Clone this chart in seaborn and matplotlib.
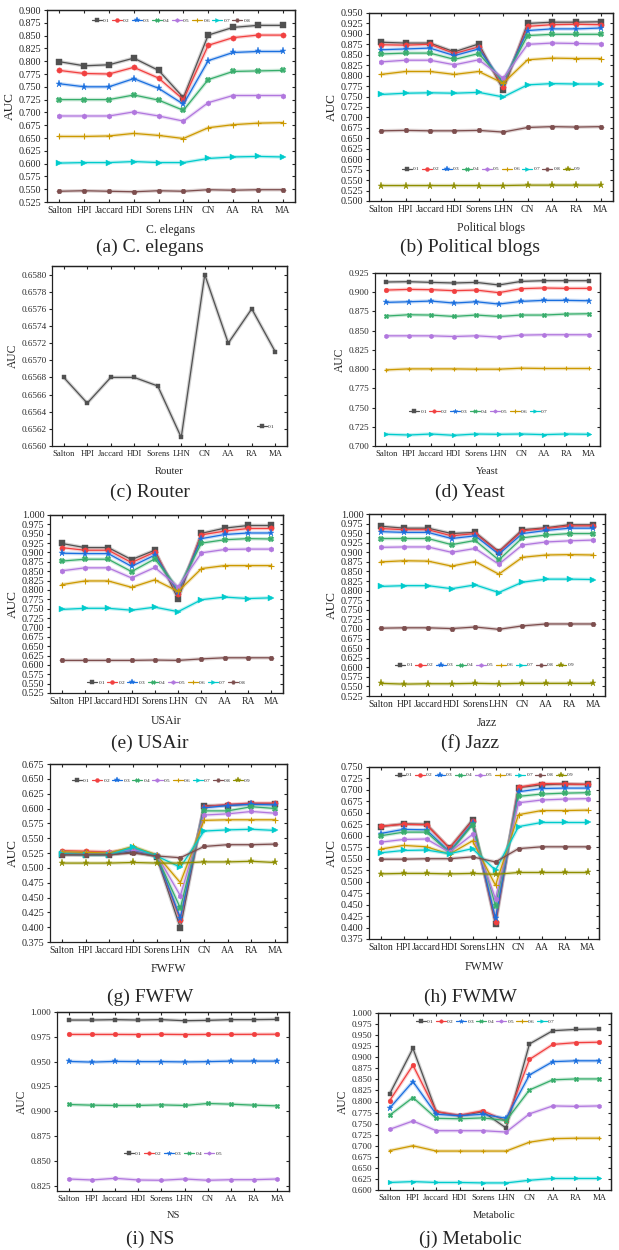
import matplotlib
matplotlib.use("Agg")
import matplotlib.pyplot as plt
from matplotlib.ticker import MultipleLocator, FormatStrFormatter
import numpy as np
import pandas as pd
import seaborn as sns

# ---------------- data ----------------
METHODS = ["Salton", "HPI", "Jaccard", "HDI", "Sorens", "LHN", "CN", "AA", "RA", "MA"]
RATIOS = ["0.1", "0.2", "0.3", "0.4", "0.5", "0.6", "0.7", "0.8", "0.9"]

CELEGANS = [
    [0.799, 0.791, 0.793, 0.806, 0.782, 0.729, 0.851, 0.866, 0.870, 0.870],
    [0.782, 0.776, 0.775, 0.788, 0.767, 0.725, 0.831, 0.846, 0.851, 0.851],
    [0.756, 0.750, 0.750, 0.766, 0.747, 0.716, 0.801, 0.817, 0.819, 0.819],
    [0.725, 0.725, 0.725, 0.734, 0.724, 0.704, 0.764, 0.780, 0.781, 0.782],
    [0.693, 0.693, 0.693, 0.701, 0.693, 0.683, 0.719, 0.733, 0.733, 0.733],
    [0.653, 0.653, 0.654, 0.659, 0.655, 0.649, 0.670, 0.676, 0.679, 0.680],
    [0.601, 0.602, 0.602, 0.604, 0.602, 0.602, 0.610, 0.613, 0.614, 0.613],
    [0.546, 0.547, 0.546, 0.545, 0.547, 0.546, 0.549, 0.548, 0.549, 0.549],
]
POLBLOGS = [
    [0.880, 0.878, 0.878, 0.857, 0.876, 0.766, 0.925, 0.928, 0.928, 0.929],
    [0.874, 0.873, 0.875, 0.853, 0.869, 0.773, 0.918, 0.922, 0.923, 0.922],
    [0.862, 0.864, 0.866, 0.848, 0.864, 0.782, 0.908, 0.912, 0.912, 0.914],
    [0.852, 0.854, 0.854, 0.839, 0.853, 0.786, 0.896, 0.899, 0.899, 0.899],
    [0.833, 0.837, 0.837, 0.826, 0.838, 0.794, 0.875, 0.878, 0.877, 0.876],
    [0.803, 0.810, 0.810, 0.803, 0.810, 0.782, 0.838, 0.842, 0.841, 0.841],
    [0.755, 0.758, 0.759, 0.758, 0.760, 0.749, 0.778, 0.781, 0.780, 0.780],
    [0.668, 0.669, 0.668, 0.668, 0.669, 0.665, 0.676, 0.678, 0.677, 0.678],
    [0.537, 0.537, 0.537, 0.537, 0.537, 0.537, 0.538, 0.538, 0.538, 0.538],
]
ROUTER = [
    [0.6568, 0.6565, 0.6568, 0.6568, 0.6567, 0.6561, 0.6580, 0.6572, 0.6576, 0.6571],
]
YEAST = [
    [0.9133, 0.9137, 0.9128, 0.9120, 0.9128, 0.9094, 0.9141, 0.9150, 0.9150, 0.9150],
    [0.9028, 0.9037, 0.9033, 0.9020, 0.9028, 0.8994, 0.9046, 0.9055, 0.9050, 0.9050],
    [0.8868, 0.8876, 0.8885, 0.8859, 0.8876, 0.8846, 0.8881, 0.8894, 0.8894, 0.8889],
    [0.8690, 0.8707, 0.8703, 0.8685, 0.8703, 0.8685, 0.8703, 0.8703, 0.8716, 0.8720],
    [0.8433, 0.8433, 0.8433, 0.8424, 0.8433, 0.8416, 0.8442, 0.8447, 0.8447, 0.8447],
    [0.7990, 0.8003, 0.8003, 0.8003, 0.7999, 0.7999, 0.8012, 0.8008, 0.8008, 0.8008],
    [0.7152, 0.7143, 0.7156, 0.7139, 0.7156, 0.7152, 0.7156, 0.7148, 0.7156, 0.7152],
]
USAIR = [
    [0.924, 0.913, 0.913, 0.881, 0.906, 0.775, 0.951, 0.965, 0.972, 0.972],
    [0.913, 0.906, 0.906, 0.873, 0.901, 0.788, 0.947, 0.957, 0.964, 0.964],
    [0.898, 0.897, 0.897, 0.863, 0.893, 0.794, 0.937, 0.948, 0.952, 0.952],
    [0.877, 0.882, 0.882, 0.849, 0.883, 0.803, 0.925, 0.934, 0.937, 0.936],
    [0.851, 0.859, 0.859, 0.832, 0.860, 0.808, 0.899, 0.908, 0.909, 0.909],
    [0.814, 0.824, 0.824, 0.807, 0.827, 0.796, 0.857, 0.865, 0.865, 0.865],
    [0.748, 0.751, 0.751, 0.746, 0.754, 0.742, 0.774, 0.781, 0.777, 0.779],
    [0.612, 0.612, 0.612, 0.612, 0.613, 0.612, 0.616, 0.619, 0.619, 0.619],
]
JAZZ = [
    [0.968, 0.963, 0.963, 0.949, 0.952, 0.902, 0.959, 0.964, 0.972, 0.972],
    [0.962, 0.959, 0.959, 0.943, 0.949, 0.900, 0.956, 0.962, 0.969, 0.969],
    [0.954, 0.952, 0.952, 0.936, 0.943, 0.895, 0.949, 0.957, 0.963, 0.963],
    [0.936, 0.936, 0.936, 0.920, 0.931, 0.880, 0.938, 0.945, 0.949, 0.949],
    [0.913, 0.914, 0.914, 0.900, 0.910, 0.869, 0.919, 0.927, 0.930, 0.932],
    [0.875, 0.878, 0.877, 0.864, 0.876, 0.843, 0.887, 0.893, 0.894, 0.893],
    [0.811, 0.813, 0.813, 0.805, 0.815, 0.795, 0.822, 0.830, 0.830, 0.829],
    [0.702, 0.703, 0.703, 0.701, 0.705, 0.699, 0.708, 0.713, 0.713, 0.713],
    [0.558, 0.556, 0.557, 0.557, 0.558, 0.557, 0.558, 0.558, 0.558, 0.558],
]
FWFW = [
    [0.522, 0.522, 0.522, 0.527, 0.519, 0.399, 0.605, 0.605, 0.608, 0.608],
    [0.529, 0.528, 0.527, 0.530, 0.520, 0.412, 0.603, 0.607, 0.609, 0.609],
    [0.524, 0.523, 0.523, 0.530, 0.520, 0.416, 0.601, 0.605, 0.607, 0.606],
    [0.525, 0.524, 0.523, 0.533, 0.520, 0.432, 0.596, 0.596, 0.603, 0.600],
    [0.526, 0.525, 0.526, 0.531, 0.522, 0.453, 0.589, 0.591, 0.595, 0.592],
    [0.527, 0.526, 0.525, 0.536, 0.522, 0.475, 0.580, 0.581, 0.581, 0.581],
    [0.524, 0.522, 0.522, 0.535, 0.520, 0.501, 0.562, 0.564, 0.565, 0.563],
    [0.522, 0.522, 0.522, 0.525, 0.520, 0.517, 0.536, 0.539, 0.539, 0.540],
    [0.508, 0.508, 0.508, 0.509, 0.508, 0.508, 0.510, 0.510, 0.511, 0.509],
]
FWMW = [
    [0.620, 0.626, 0.625, 0.573, 0.635, 0.407, 0.705, 0.711, 0.713, 0.712],
    [0.621, 0.625, 0.624, 0.573, 0.632, 0.413, 0.706, 0.714, 0.713, 0.712],
    [0.605, 0.614, 0.613, 0.565, 0.627, 0.420, 0.696, 0.703, 0.704, 0.704],
    [0.600, 0.608, 0.608, 0.563, 0.624, 0.448, 0.686, 0.691, 0.693, 0.694],
    [0.586, 0.592, 0.593, 0.564, 0.603, 0.463, 0.672, 0.678, 0.680, 0.681],
    [0.571, 0.579, 0.576, 0.560, 0.589, 0.492, 0.646, 0.655, 0.655, 0.656],
    [0.563, 0.568, 0.569, 0.561, 0.572, 0.525, 0.620, 0.629, 0.629, 0.629],
    [0.549, 0.549, 0.550, 0.550, 0.554, 0.543, 0.572, 0.576, 0.576, 0.576],
    [0.517, 0.518, 0.518, 0.517, 0.518, 0.516, 0.520, 0.520, 0.520, 0.520],
]
NS = [
    [0.9919, 0.9919, 0.9923, 0.9919, 0.9923, 0.9912, 0.9916, 0.9923, 0.9923, 0.9926],
    [0.9774, 0.9774, 0.9774, 0.9773, 0.9775, 0.9773, 0.9774, 0.9774, 0.9775, 0.9776],
    [0.9502, 0.9495, 0.9502, 0.9500, 0.9500, 0.9497, 0.9500, 0.9505, 0.9505, 0.9505],
    [0.9068, 0.9061, 0.9058, 0.9058, 0.9064, 0.9058, 0.9078, 0.9071, 0.9061, 0.9054],
    [0.8317, 0.8307, 0.8324, 0.8307, 0.8304, 0.8317, 0.8304, 0.8310, 0.8310, 0.8317],
]
METABOLIC = [
    [0.817, 0.920, 0.777, 0.767, 0.777, 0.740, 0.930, 0.960, 0.963, 0.964],
    [0.802, 0.882, 0.777, 0.769, 0.779, 0.756, 0.895, 0.929, 0.933, 0.934],
    [0.785, 0.845, 0.771, 0.768, 0.771, 0.762, 0.860, 0.890, 0.892, 0.892],
    [0.769, 0.809, 0.762, 0.761, 0.763, 0.757, 0.826, 0.849, 0.851, 0.851],
    [0.737, 0.756, 0.734, 0.734, 0.734, 0.731, 0.772, 0.790, 0.789, 0.790],
    [0.689, 0.700, 0.688, 0.688, 0.688, 0.688, 0.708, 0.716, 0.717, 0.717],
    [0.617, 0.619, 0.617, 0.617, 0.616, 0.616, 0.622, 0.626, 0.626, 0.626],
]

# ---------------- style ----------------
COLORS = ["#515151", "#F14040", "#1A6FDF", "#37AD6B", "#B177DE",
          "#CC9900", "#00CBCC", "#7D4E4E", "#8E8E00"]
MARKERS = ["s", "o", "*", "X", "h", "+", ">", "H", "*"]

sns.set_style("ticks")
plt.rcParams["font.family"] = ["Liberation Serif", "DejaVu Serif"]
plt.rcParams["axes.linewidth"] = 0.9

W, H = 619, 1250
fig = plt.figure(figsize=(W / 100, H / 100), dpi=100)


def rect(l, t, r, b):
    return [l / W, 1 - b / H, (r - l) / W, (b - t) / H]


def panel(data, box, name, ylim, step, fmt, leg_xy, ytick_fs, xtick_fs, lab_fs, auc_fs,
          small=False):
    ax = fig.add_axes(rect(*box))
    ms = 3.4 if small else 3.8
    for i, vals in enumerate(data):
        df = pd.DataFrame({"Method": METHODS, "AUC": vals})
        c = COLORS[i]
        sns.lineplot(data=df, x="Method", y="AUC", color=c, lw=2.6, alpha=0.25,
                     ax=ax, legend=False, sort=False)
        sns.lineplot(data=df, x="Method", y="AUC", color=c, lw=0.9,
                     marker=MARKERS[i], markersize=ms * (1.35 if MARKERS[i] == "*" else 1.0),
                     markeredgecolor=c, markeredgewidth=0.8 if MARKERS[i] == "+" else 0.3,
                     label=RATIOS[i], ax=ax, sort=False)
    ax.set_xlim(-0.5, 9.5)
    ax.set_ylim(*ylim)
    ax.yaxis.set_major_locator(MultipleLocator(step))
    ax.yaxis.set_major_formatter(FormatStrFormatter(fmt))
    ax.tick_params(axis="y", direction="out", length=2.5, width=0.8,
                   labelsize=ytick_fs, pad=1.5)
    ax.tick_params(axis="x", direction="in", length=2.5, width=0.8,
                   labelsize=xtick_fs, pad=3)
    ax.set_xlabel(name, fontsize=lab_fs, labelpad=6)
    ax.set_ylabel("AUC", fontsize=auc_fs, labelpad=2)
    for s in ax.spines.values():
        s.set_linewidth(0.9)
        s.set_color("#222222")
    sy = ax.secondary_yaxis("right")
    sy.yaxis.set_major_locator(MultipleLocator(step))
    sy.tick_params(direction="in", length=2.5, width=0.8, labelright=False)
    sx = ax.secondary_xaxis("top")
    sx.set_xticks(range(len(METHODS)))
    sx.tick_params(direction="in", length=2.5, width=0.8, labeltop=False)
    handles, labels = ax.get_legend_handles_labels()
    ax.legend(handles, labels, ncol=len(labels), loc="center", bbox_to_anchor=leg_xy,
              frameon=False, fontsize=3.8, handlelength=1.9, handletextpad=0.2,
              columnspacing=0.45, markerscale=0.75, borderpad=0, borderaxespad=0)
    return ax


BIG = dict(ytick_fs=7.3, xtick_fs=6.9, lab_fs=8.5, auc_fs=9.5)
SMALL = dict(ytick_fs=6.6, xtick_fs=6.2, lab_fs=7.6, auc_fs=8.3, small=True)

panel(CELEGANS, (47, 10, 295, 202), "C. elegans", (0.525, 0.900), 0.025, "%.3f",
      (0.50, 0.943), **BIG)
panel(POLBLOGS, (369, 13, 613, 201), "Political blogs", (0.500, 0.950), 0.025, "%.3f",
      (0.50, 0.17), **BIG)
panel(ROUTER, (52, 266, 287, 446), "Router", (0.6560, 0.65810), 0.0002, "%.4f",
      (0.91, 0.11), **SMALL)
panel(YEAST, (375, 273, 600, 446), "Yeast", (0.700, 0.925), 0.025, "%.3f",
      (0.46, 0.197), **SMALL)
panel(USAIR, (50, 515, 283, 693), "USAir", (0.525, 1.000), 0.025, "%.3f",
      (0.50, 0.06), **BIG)
panel(JAZZ, (369, 514, 605, 696), "Jazz", (0.525, 1.000), 0.025, "%.3f",
      (0.49, 0.17), **BIG)
panel(FWFW, (50, 764, 287, 942), "FWFW", (0.375, 0.675), 0.025, "%.3f",
      (0.47, 0.905), **BIG)
panel(FWMW, (369, 767, 599, 939), "FWMW", (0.375, 0.750), 0.025, "%.3f",
      (0.50, 0.953), **BIG)
panel(NS, (57, 1012, 289, 1191), "NS", (0.8196, 1.000), 0.025, "%.3f",
      (0.50, 0.21), **SMALL)
panel(METABOLIC, (378, 1013, 611, 1190), "Metabolic", (0.600, 1.000), 0.025, "%.3f",
      (0.46, 0.95), **SMALL)

CAPTIONS = ["(a) C. elegans", "(b) Political blogs", "(c) Router", "(d) Yeast",
            "(e) USAir", "(f) Jazz", "(g) FWFW", "(h) FWMW", "(i) NS", "(j) Metabolic"]
cap_y = [247, 492, 743, 997, 1239]
for k, cap in enumerate(CAPTIONS):
    x = 150 if k % 2 == 0 else 470
    fig.text(x / W, 1 - cap_y[k // 2] / H, cap, ha="center", va="center", fontsize=14)

fig.savefig("out.png", dpi=100)
